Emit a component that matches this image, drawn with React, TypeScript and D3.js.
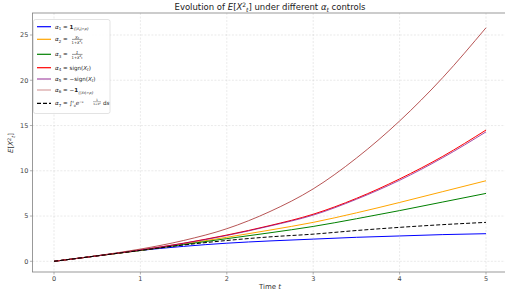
import React from "react";
import * as d3 from "d3";

const times = [0, 0.5, 1, 1.5, 2, 2.5, 3, 3.5, 4, 4.5, 5];
const alpha1 = [0, 0.6, 1.2, 1.65, 2.0, 2.25, 2.45, 2.65, 2.8, 2.95, 3.05];
const alpha2 = [0, 0.6, 1.2, 1.9, 2.65, 3.45, 4.3, 5.35, 6.5, 7.7, 8.9];
const alpha3 = [0, 0.6, 1.2, 1.85, 2.5, 3.15, 3.85, 4.7, 5.6, 6.55, 7.5];
const alpha4 = [0, 0.6, 1.25, 2.0, 2.9, 3.95, 5.2, 6.95, 9.1, 11.6, 14.5];
const alpha5 = [0, 0.6, 1.25, 1.98, 2.85, 3.9, 5.1, 6.85, 8.95, 11.45, 14.3];
const alpha6 = [0, 0.62, 1.35, 2.3, 3.6, 5.5, 8.0, 11.4, 15.5, 20.3, 25.8];
const alpha7 = [0, 0.6, 1.2, 1.8, 2.3, 2.7, 3.0, 3.4, 3.75, 4.05, 4.3];

const xTicks = [0, 1, 2, 3, 4, 5];
const yTicks = [0, 5, 10, 15, 20, 25];

const seriesList = [
  { key: "a1", values: alpha1, color: "#0000ff", opacity: 1, dash: "" },
  { key: "a2", values: alpha2, color: "#ffa500", opacity: 1, dash: "" },
  { key: "a3", values: alpha3, color: "#008000", opacity: 1, dash: "" },
  { key: "a4", values: alpha4, color: "#ff0000", opacity: 1, dash: "" },
  { key: "a5", values: alpha5, color: "#800080", opacity: 0.7, dash: "" },
  { key: "a6", values: alpha6, color: "#a52a2a", opacity: 0.8, dash: "" },
  { key: "a7", values: alpha7, color: "#000000", opacity: 1, dash: "4,2" },
];

const W = 505;
const H = 293;
const L = 32.4, R = 507.6, T = 13, B = 272;

export default function App() {
  const x = d3.scaleLinear().domain([-0.25, 5.25]).range([L, R]);
  const y = d3.scaleLinear().domain([0, 25]).range([261.3, 35]);
  const line = d3
    .line<number>()
    .x((_, i) => x(times[i]))
    .y((d) => y(d))
    .curve(d3.curveMonotoneX);

  const font = "DejaVu Sans, sans-serif";
  const lx1 = 37, lx2 = 51, tx = 55;
  const rows = [26.7, 39.3, 54.3, 67.7, 79, 90, 103.3];
  const fs = 5.6;
  const sub = 4;

  const legendText = (i: number) => {
    const yy = rows[i] + 2;
    const base = (n: string) => (
      <>
        <tspan fontStyle="italic">α</tspan>
        <tspan fontSize={sub} dy={1.2}>{n}</tspan>
        <tspan dy={-1.2}> = </tspan>
      </>
    );
    switch (i) {
      case 0:
        return (
          <text x={tx} y={yy} fontSize={fs}>
            {base("1")}
            <tspan fontWeight="bold">1</tspan>
            <tspan fontSize={sub - 0.5} dy={1.5} fontStyle="italic">{"{|X"}</tspan>
            <tspan fontSize={sub - 1} dy={0.6} fontStyle="italic">t</tspan>
            <tspan fontSize={sub - 0.5} dy={-0.6} fontStyle="italic">{"|>ρ}"}</tspan>
          </text>
        );
      case 1:
      case 2: {
        const num = i === 1 ? "X" : "1";
        return (
          <g>
            <text x={tx} y={yy} fontSize={fs}>{base(String(i + 1))}</text>
            <text x={tx + 22} y={yy - 2.6} fontSize={sub} textAnchor="middle" fontStyle="italic">
              {num}
              {i === 1 ? <tspan fontSize={sub - 1} dy={0.6}>t</tspan> : null}
            </text>
            <line x1={tx + 17} x2={tx + 27.5} y1={yy - 1.9} y2={yy - 1.9} stroke="#000" strokeWidth={0.4} />
            <text x={tx + 22} y={yy + 2.2} fontSize={sub - 0.3} textAnchor="middle">
              1+<tspan fontStyle="italic">X</tspan>
              <tspan fontSize={sub - 1.2} dy={-1.2}>2</tspan>
              <tspan fontSize={sub - 1.2} dy={2}>t</tspan>
            </text>
          </g>
        );
      }
      case 3:
      case 4:
        return (
          <text x={tx} y={yy} fontSize={fs}>
            {base(String(i + 1))}
            {i === 4 ? "−" : ""}sign(<tspan fontStyle="italic">X</tspan>
            <tspan fontSize={sub} dy={1.2} fontStyle="italic">t</tspan>
            <tspan dy={-1.2}>)</tspan>
          </text>
        );
      case 5:
        return (
          <text x={tx} y={yy} fontSize={fs}>
            {base("6")}
            −<tspan fontWeight="bold">1</tspan>
            <tspan fontSize={sub - 0.5} dy={1.5} fontStyle="italic">{"{|X"}</tspan>
            <tspan fontSize={sub - 1} dy={0.6} fontStyle="italic">t</tspan>
            <tspan fontSize={sub - 0.5} dy={-0.6} fontStyle="italic">{"|>ρ}"}</tspan>
          </text>
        );
      default:
        return (
          <g>
            <text x={tx} y={yy} fontSize={fs}>
              {base("7")}
              <tspan>∫</tspan>
              <tspan fontSize={sub - 0.8} dy={-2.2} fontStyle="italic">t</tspan>
              <tspan fontSize={sub - 0.8} dy={4}>0</tspan>
              <tspan dy={-1.8} fontStyle="italic">e</tspan>
              <tspan fontSize={sub - 0.8} dy={-2.2}>−</tspan>
              <tspan fontSize={sub - 0.8} fontStyle="italic">s</tspan>
            </text>
            <text x={tx + 42} y={yy - 4.2} fontSize={sub - 1} textAnchor="middle">1</text>
            <line x1={tx + 38} x2={tx + 46} y1={yy - 3.6} y2={yy - 3.6} stroke="#000" strokeWidth={0.3} />
            <text x={tx + 42} y={yy - 0.8} fontSize={sub - 1.2} textAnchor="middle">1+X<tspan fontSize={sub - 1.8} dy={-0.8}>2</tspan></text>
            <text x={tx + 48} y={yy} fontSize={fs}>d<tspan fontStyle="italic">s</tspan></text>
          </g>
        );
    }
  };

  return (
    <svg
      width={W}
      height={H}
      style={{ position: "absolute", left: 0, top: 0, background: "#fff" }}
      fontFamily={font}
    >
      <rect x={0} y={0} width={W} height={H} fill="#fff" />
      <defs>
        <clipPath id="plotclip">
          <rect x={L} y={T} width={R - L} height={B - T} />
        </clipPath>
      </defs>
      {/* grid */}
      <g stroke="#b0b0b0" strokeOpacity={0.45} strokeWidth={0.6} strokeDasharray="2,1.5">
        {xTicks.map((t) => (
          <line key={"gx" + t} x1={x(t)} x2={x(t)} y1={T} y2={B} />
        ))}
        {yTicks.map((t) => (
          <line key={"gy" + t} x1={L} x2={R} y1={y(t)} y2={y(t)} />
        ))}
      </g>
      {/* lines */}
      <g clipPath="url(#plotclip)" fill="none">
        {seriesList.map((s) => (
          <path
            key={s.key}
            d={line(s.values) || ""}
            stroke={s.color}
            strokeOpacity={s.opacity}
            strokeWidth={1}
            strokeDasharray={s.dash}
          />
        ))}
      </g>
      {/* spines */}
      <rect x={L} y={T} width={R - L} height={B - T} fill="none" stroke="#808080" strokeWidth={0.8} />
      {/* ticks */}
      <g fontSize={6.5} fill="#444">
        {xTicks.map((t) => (
          <g key={"tx" + t}>
            <line x1={x(t)} x2={x(t)} y1={B} y2={B + 2.5} stroke="#808080" strokeWidth={0.6} />
            <text x={x(t)} y={B + 9} textAnchor="middle">{t}</text>
          </g>
        ))}
        {yTicks.map((t) => (
          <g key={"ty" + t}>
            <line x1={L - 2.5} x2={L} y1={y(t)} y2={y(t)} stroke="#808080" strokeWidth={0.6} />
            <text x={L - 4} y={y(t) + 2.3} textAnchor="end">{t}</text>
          </g>
        ))}
      </g>
      {/* axis labels */}
      <text x={270} y={289} fontSize={7} textAnchor="middle" fill="#333">
        Time <tspan fontStyle="italic">t</tspan>
      </text>
      <text transform={`translate(13,143) rotate(-90)`} fontSize={7} textAnchor="middle" fill="#333">
        <tspan fontStyle="italic">E</tspan>[<tspan fontStyle="italic">X</tspan>
        <tspan fontSize={5} dy={-2.5}>2</tspan>
        <tspan fontSize={5} dy={4.5} fontStyle="italic">t</tspan>
        <tspan dy={-2}>]</tspan>
      </text>
      {/* title */}
      <text x={270} y={10} fontSize={8.5} textAnchor="middle" fill="#222">
        Evolution of <tspan fontStyle="italic">E</tspan>[<tspan fontStyle="italic">X</tspan>
        <tspan fontSize={6} dy={-3}>2</tspan>
        <tspan fontSize={6} dy={5} fontStyle="italic">t</tspan>
        <tspan dy={-2}>] under different </tspan>
        <tspan fontStyle="italic">α</tspan>
        <tspan fontSize={6} dy={1.5} fontStyle="italic">t</tspan>
        <tspan dy={-1.5}> controls</tspan>
      </text>
      {/* legend */}
      <g>
        <rect x={33.5} y={19.5} width={76.5} height={94} rx={2} fill="#fff" fillOpacity={0.85} stroke="#d0d0d0" strokeWidth={0.6} />
        {seriesList.map((s, i) => (
          <line
            key={"ll" + s.key}
            x1={lx1}
            x2={lx2}
            y1={rows[i]}
            y2={rows[i]}
            stroke={s.color}
            strokeOpacity={i === 5 ? 0.45 : s.opacity}
            strokeWidth={1.2}
            strokeDasharray={s.dash}
          />
        ))}
        <g fill="#222">
          {seriesList.map((s, i) => (
            <g key={"lt" + s.key}>{legendText(i)}</g>
          ))}
        </g>
      </g>
    </svg>
  );
}
